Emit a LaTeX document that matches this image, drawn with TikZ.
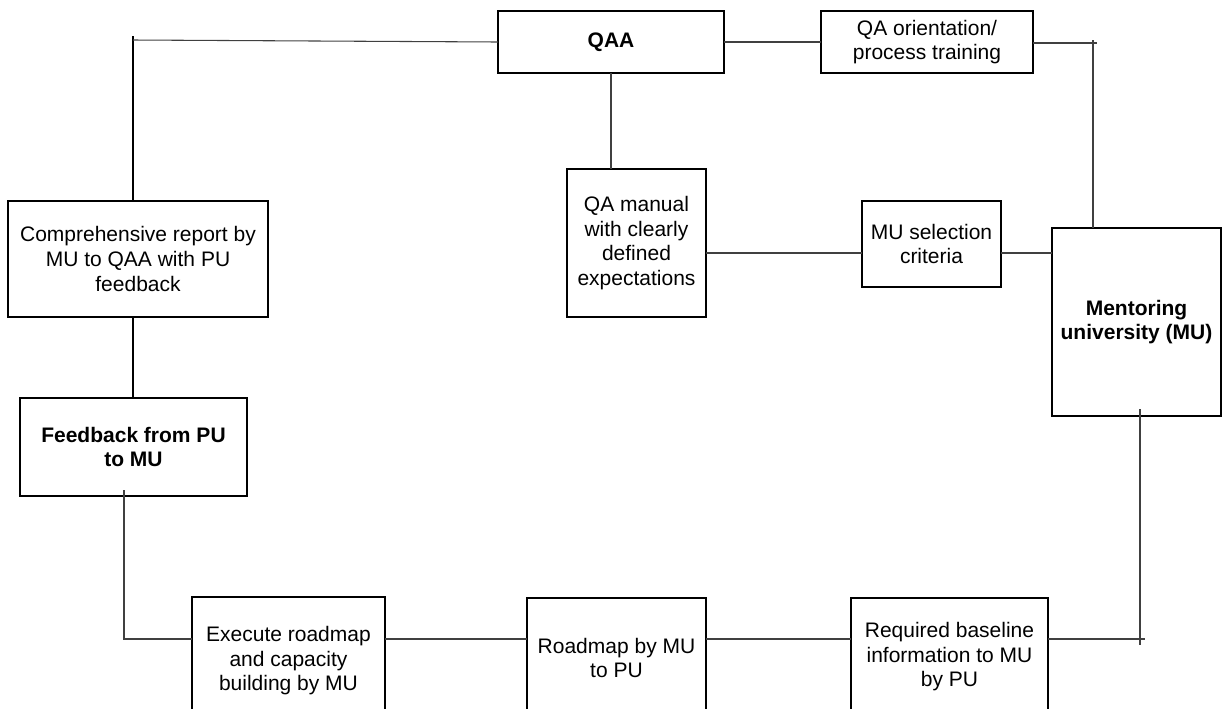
\documentclass[tikz,border=0pt]{standalone}
\usepackage{fontspec}
\setmainfont{Liberation Sans}
\usetikzlibrary{positioning}

\begin{document}
\begin{tikzpicture}[x=0.75pt, y=-0.75pt,
    box/.style={rectangle, draw=black, line width=1.1pt, align=center,
                inner sep=0pt, outer sep=0pt,
                font=\fontsize{15.75}{18.4}\selectfont},
    boldbox/.style={box, font=\fontsize{15.75}{18.4}\selectfont\bfseries},
    link/.style={line width=0.8pt, black!75},
    spine/.style={line width=2pt, black}
  ]
    \useasboundingbox (0,0) rectangle (1222,708);
    \clip (0,0) rectangle (1222,708);

    \node[boldbox, minimum width=169.5pt, minimum height=46.5pt] (qaa) at (611,42) {QAA};
    \node[box, minimum width=159pt, minimum height=46.5pt] (orient) at (927,42) {QA orientation/\\process training};
    \node[box, minimum width=104.25pt, minimum height=111pt] (manual) at (636.5,243) {QA manual\\with clearly\\defined\\expectations};
    \node[box, minimum width=104.25pt, minimum height=64.5pt] (select) at (931.5,244) {MU selection\\criteria};
    \node[boldbox, minimum width=126.75pt, minimum height=141pt] (mentor) at (1136.5,322) {Mentoring\\university (MU)};
    \node[box, minimum width=195pt, minimum height=87pt] (report) at (138,259) {Comprehensive report by\\MU to QAA with PU\\feedback};
    \node[boldbox, minimum width=170.25pt, minimum height=73.5pt] (feedback) at (133.5,447) {Feedback from PU\\to MU};
    \node[box, minimum width=144.75pt, minimum height=96pt] (execute) at (288.5,661) {Execute roadmap\\and capacity\\building by MU};
    \node[box, minimum width=134.25pt, minimum height=90pt] (roadmap) at (616.5,658) {Roadmap by MU\\to PU};
    \node[box, minimum width=147.75pt, minimum height=88.5pt] (required) at (949.5,657) {Required baseline\\information to MU\\by PU};

    \coordinate (nw) at (133,40);
    \coordinate (ne) at (1093,43);
    \coordinate (sw) at (124,639);
    \coordinate (se) at (1140,639);
    \coordinate (mid) at (0,253);
    \coordinate (row) at (0,639);

    \draw[spine, shorten <=-3pt] (nw) -- (report.north -| nw);
    \draw[spine] (report.south -| nw) -- (feedback.north -| nw);
    \draw[link] (nw) -- (qaa.west);

    \draw[link] (qaa) -- (orient);
    \draw[link, shorten >=-3pt] (orient.east |- ne) -- (ne);
    \draw[link, shorten <=-2.25pt] (ne) -- (ne |- mentor.north);

    \draw[link] (qaa.south) -- (qaa.south |- manual.north);
    \draw[link] (manual.east |- mid) -- (select.west |- mid);
    \draw[link] (select.east |- mid) -- (mentor.west |- mid);

    \draw[link, shorten <=-5.25pt, shorten >=-4.5pt] (se |- mentor.south) -- (se);
    \draw[link, shorten >=-3.75pt] (required.east |- row) -- (se);
    \draw[link] (roadmap.east |- row) -- (required.west |- row);
    \draw[link] (execute.east |- row) -- (roadmap.west |- row);
    \draw[link, shorten <=-4.5pt] (feedback.south -| sw) -- (sw) -- (execute.west |- row);
  \end{tikzpicture}
\end{document}
